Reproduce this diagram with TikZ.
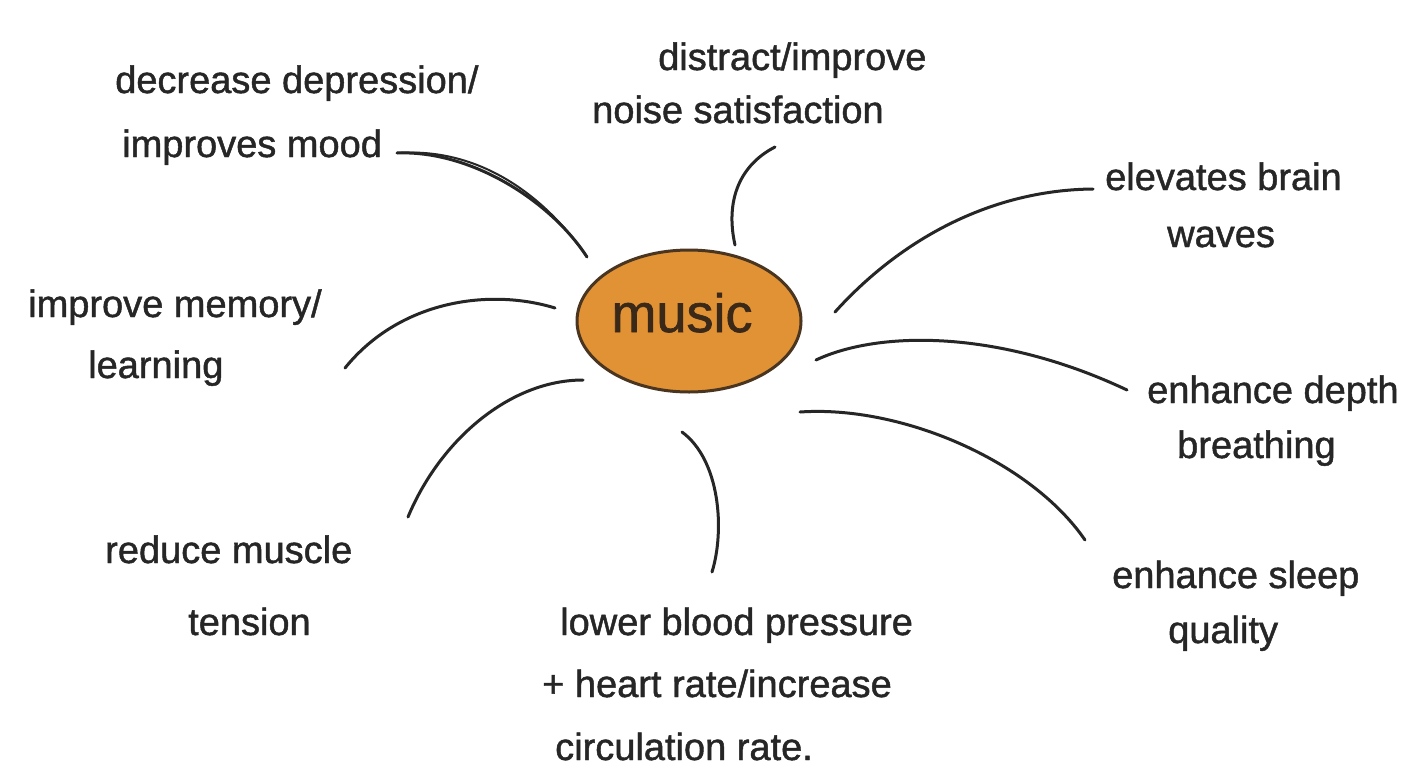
\documentclass[tikz,border=0pt]{standalone}
\usepackage{fontspec}
\setmainfont{Liberation Sans}
\newfontfamily\handfont{Liberation Sans}[FakeBold=1.2]
\usetikzlibrary{shapes.geometric}
\definecolor{ink}{HTML}{262626}
\definecolor{hubfill}{HTML}{E09234}
\definecolor{hubline}{HTML}{4A3520}
\definecolor{hubtext}{HTML}{3A2818}
\begin{document}
\begin{tikzpicture}[x=1pt,y=-1pt,
  lbl/.style={anchor=base west, inner sep=0pt, text=ink, font=\handfont\fontsize{38}{42}\selectfont},
  conn/.style={draw=ink, line width=3pt, line cap=round},
  hub/.style={ellipse, draw=hubline, line width=3pt, fill=hubfill, inner sep=0pt,
              minimum width=224pt, minimum height=142pt},
  hubtxt/.style={anchor=base, inner sep=0pt, text=hubtext, font=\handfont\fontsize{54}{58}\selectfont}]
\useasboundingbox (0,0) rectangle (1419,777);
\fill[white] (0,0) rectangle (1419,777);

% centre
\node[hub] (music) at (689,321) {};
\node[hubtxt] (musictxt) at (682,332) {music};

% labels
\node[lbl] (dep1) at (115,93) {decrease depression/};
\node[lbl] (dep2) at (122,157) {improves mood};
\node[lbl] (dis1) at (658,70) {distract/improve};
\node[lbl] (dis2) at (592,123) {noise satisfaction};
\node[lbl] (ele1) at (1105,190) {elevates brain};
\node[lbl] (ele2) at (1167,247) {waves};
\node[lbl] (dee1) at (1147,403) {enhance depth};
\node[lbl] (dee2) at (1177,458) {breathing};
\node[lbl] (sle1) at (1112,588) {enhance sleep};
\node[lbl] (sle2) at (1168,643) {quality};
\node[lbl] (low1) at (560,635) {lower blood pressure};
\node[lbl] (low2) at (542,697) {+ heart rate/increase};
\node[lbl] (low3) at (555,760) {circulation rate.};
\node[lbl] (mus1) at (105,563) {reduce muscle};
\node[lbl] (mus2) at (188,635) {tension};
\node[lbl] (mem1) at (28,317) {improve memory/};
\node[lbl] (mem2) at (88,378) {learning};

% connector ends
\coordinate (depA) at (587,257);  \coordinate (depB) at (397,153);
\coordinate (disA) at (735,245);  \coordinate (disB) at (775,147);
\coordinate (eleA) at (835,312);  \coordinate (eleB) at (1093,189);
\coordinate (deeA) at (816,360);  \coordinate (deeB) at (1127,390);
\coordinate (sleA) at (800,412);  \coordinate (sleB) at (1085,540);
\coordinate (lowA) at (682,432);  \coordinate (lowB) at (712,572);
\coordinate (musA) at (583,380);  \coordinate (musB) at (408,517);
\coordinate (memA) at (555,308);  \coordinate (memB) at (345,368);

% connectors
\draw[conn] (depA) .. controls (550,200) and (470,150) .. (depB);
\draw[conn, line width=2pt] (depA) .. controls (545,196) and (480,147) .. (depB);
\draw[conn] (disA) .. controls (725,200) and (740,165) .. (disB);
\draw[conn] (eleA) .. controls (900,240) and (990,190) .. (eleB);
\draw[conn] (deeA) .. controls (880,330) and (1000,330) .. (deeB);
\draw[conn] (sleA) .. controls (900,405) and (1030,460) .. (sleB);
\draw[conn] (lowA) .. controls (720,460) and (725,530) .. (lowB);
\draw[conn] (musA) .. controls (510,380) and (440,440) .. (musB);
\draw[conn] (memA) .. controls (490,288) and (400,300) .. (memB);
\end{tikzpicture}
\end{document}
